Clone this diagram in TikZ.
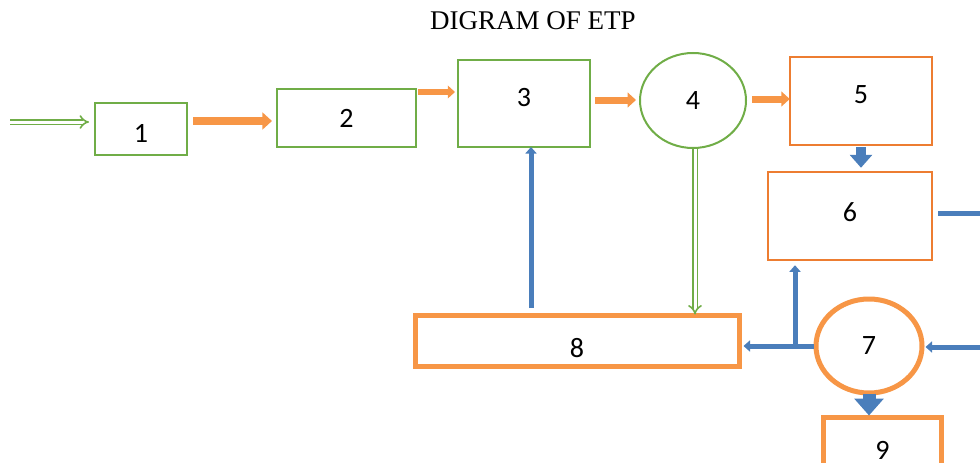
\documentclass[tikz,border=0pt]{standalone}
\usepackage{fontspec}
\setmainfont{Liberation Serif}
\newfontfamily\digitfont{Carlito}
\usetikzlibrary{arrows.meta,shapes.geometric}
\definecolor{gbox}{HTML}{70AD47}
\definecolor{obox}{HTML}{ED7D31}
\definecolor{oarr}{HTML}{F79646}
\definecolor{barr}{HTML}{4A7EBB}
\tikzset{
  gbx/.style={draw=gbox,line width=2pt,inner sep=0pt},
  obx/.style={draw=obox,line width=2.5pt,inner sep=0pt},
  othick/.style={draw=oarr,line width=5pt,inner sep=0pt},
  lbl/.style={font=\digitfont\fontsize{28}{28}\selectfont,text=black,inner sep=0pt},
  oa/.style={draw=oarr,line width=#1,-{Triangle[width=2.1*#1,length=1.2*#1]}},
  ba/.style={draw=barr,line width=#1,-{Triangle[width=2.2*#1,length=1.3*#1]}},
  ga/.style={draw=gbox,double=white,line width=1.6pt,double distance=3pt,-{Implies}},
}
\begin{document}
\begin{tikzpicture}[x=1pt,y=-1pt]
\useasboundingbox (0,0) rectangle (980,463);
\clip (0,0) rectangle (980,463);
\node[font=\fontsize{27}{27}\selectfont] (title) at (533,21) {DIGRAM OF ETP};
% boxes
\node[gbx,minimum width=92,minimum height=52,label={[lbl,yshift=-4]center:1}] (b1) at (141,129) {};
\node[gbx,minimum width=139,minimum height=58,label={[lbl]center:2}] (b2) at (346.5,118) {};
\node[gbx,minimum width=132,minimum height=87,label={[lbl,yshift=6]center:3}] (b3) at (524,103.5) {};
\node[ellipse,draw=gbox,line width=2pt,minimum width=106,minimum height=95,inner sep=0pt,label={[lbl]center:4}] (c4) at (693,100.5) {};
\node[obx,minimum width=142,minimum height=88,label={[lbl,yshift=6]center:5}] (b5) at (861,101) {};
\node[obx,minimum width=164,minimum height=88,label={[lbl,yshift=4]center:6}] (b6) at (850,216) {};
\node[othick,minimum width=324,minimum height=51,label={[lbl,yshift=-8]center:8}] (b8) at (577,340.5) {};
\node[ellipse,draw=oarr,line width=5pt,minimum width=106,minimum height=94,inner sep=0pt,label={[lbl]center:7}] (c7) at (869,346) {};
\node[othick,minimum width=118,minimum height=60,label={[lbl,yshift=-3]center:9}] (b9) at (882.5,447) {};
% free ends
\coordinate (in) at (10,122);
\coordinate (out6) at (995,213);
\coordinate (in7) at (995,347);
\coordinate (j) at (795,346);
% connectors
\draw[ga] (in) -- ([xshift=-5]b1.west|-in);
\draw[oa=8pt] ([xshift=5]b1.east|-0,121) -- ([xshift=-4]b2.west|-0,121);
\draw[oa=6pt] ([xshift=1]b2.east|-0,92) -- ([xshift=-2]b3.west|-0,92);
\draw[oa=7pt] ([xshift=4]b3.east|-0,100) -- ([xshift=-3]c4.west|-0,100);
\draw[oa=7pt] ([xshift=5]c4.east|-0,99) -- ([xshift=1]b5.west|-0,99);
\draw[ba=10pt] ([yshift=-1]b5.south) -- ([yshift=3]b5.south|-b6.north);
\draw[ba=5pt] ([xshift=5]b6.east|-out6) -- (out6);
\draw[ba=5pt] (531,308) -- ([yshift=1]b3.south-|531,0);
\draw[ga] (c4.south-|695,0) -- ([yshift=-2]b8.north-|695,0);
\draw[ba=5pt] (c7.west|-0,346) -- ([xshift=2]b8.east|-0,346);
\draw[ba=5pt] (j) -- ([yshift=-4]b6.south-|j);
\draw[ba=5pt] (in7) -- ([xshift=1]c7.east|-in7);
\draw[ba=13pt] ([yshift=2]c7.south) -- ([yshift=-1]c7.south|-b9.north);
\end{tikzpicture}
\end{document}
